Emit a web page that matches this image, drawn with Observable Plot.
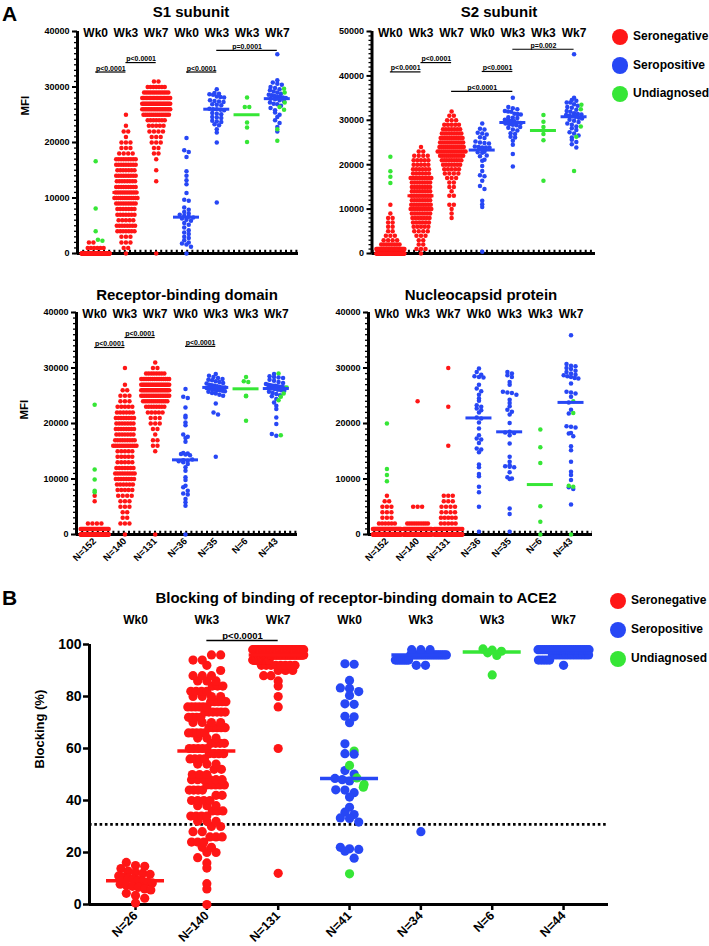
<!DOCTYPE html>
<html><head><meta charset="utf-8">
<script src="https://cdn.jsdelivr.net/npm/d3@7"></script>
<script src="https://cdn.jsdelivr.net/npm/@observablehq/plot@0.6"></script>
<style>
body{margin:0;background:#fff;}
#root{position:relative;width:709px;height:946px;overflow:hidden;background:#fff;font-family:"Liberation Sans",Arial,sans-serif;font-weight:bold;color:#000;}
.t{position:absolute;white-space:nowrap;line-height:1.15;}
</style></head><body><div id="root"></div>
<script>
// ---------- categories & labels ----------
const statuses = ["Seronegative", "Seropositive", "Undiagnosed"];
const statusColors = ["#ff1616", "#2747f5", "#36e636"];
const weekLabels = ["Wk0", "Wk3", "Wk7", "Wk0", "Wk3", "Wk3", "Wk7"];
const nLabelsA = ["N=152", "N=140", "N=131", "N=36", "N=35", "N=6", "N=43"];
const nLabelsB = ["N=26", "N=140", "N=131", "N=41", "N=34", "N=6", "N=44"];
const panelTitles = ["S1 subunit", "S2 subunit", "Receptor-binding domain", "Nucleocapsid protein",
  "Blocking of binding of receptor-binding domain to ACE2"];

// ---------- S1 subunit (MFI) ; *Neg* arrays = counts per 1000-MFI bin ----------
const s1NegWk0 = [139, 6, 2];
const s1UndWk0 = [16600, 8100, 4000, 2500, 2300];
const s1NegWk3 = [1,2,3,3,7,8,5,7,7,9,12,10,9,8,9,7,9,9,4,3,3,1,2,1,0,1];
const s1NegWk7 = [1,0,0,0,0,0,0,0,0,0,0,0,0,1,0,1,0,1,2,2,3,3,4,5,7,14,19,25,21,13,7,2];
const s1PosWk0 = [20800,18600,18300,17400,14800,14000,13200,12500,10900,9700,9500,8300,7900,7500,7200,7000,6800,6600,6500,6300,6100,5900,5500,5200,4700,4200,3800,3500,3000,2800,2400,2000,1800,1600,1200,0];
const s1PosWk3 = [29600,28900,28800,28700,28600,28300,28200,28100,27600,27500,27400,27300,26900,26800,26700,26100,26000,26000,25900,25800,25300,25200,25100,24600,24500,24400,23900,23800,23700,23300,23100,22400,21800,20000,9200];
const s1UndWk3 = [28100, 26400, 26400, 23600, 22700, 20100];
const s1PosWk7 = [35900,31200,30800,30600,30400,30000,29800,29600,29400,29200,29000,28800,28600,28500,28400,28300,28200,28100,28000,27900,27800,27600,27400,27200,27000,26900,26600,26200,25800,25400,25000,24600,24000,23500,22800,22000];
const s1UndWk7 = [29700, 29000, 27200, 26400, 25900, 22400, 20300];

// ---------- S2 subunit ----------
const s2NegWk0 = [83,40,8,4,3,2,2,2,2,1,0,1];
const s2UndWk0 = [21800, 18500, 17300, 15900];
const s2NegWk3 = [1,3,2,2,3,4,5,6,7,8,10,9,8,9,8,8,8,10,6,6,5,5,4,2,1];
const s2NegWk7 = [0,0,0,0,0,0,0,0,1,1,1,2,0,2,1,2,2,3,4,5,7,9,12,16,13,12,11,9,7,5,3,2,1];
const s2PosWk0 = [29300,28100,27900,27200,27000,26800,26200,26000,25200,25000,24900,24800,24100,24000,23900,23900,23800,23700,22900,22800,22700,22100,21900,21100,20900,19700,18600,17600,17400,16400,15200,14500,11900,11100,10500,400];
const s2PosWk3 = [35100,33000,32700,32500,32100,32000,31900,31500,31400,31300,30700,30600,30500,30100,30000,29900,29800,29500,29400,29300,29100,29000,28900,28500,28300,27900,27700,27100,26900,26300,26100,25400,24500,22400,19600];
const s2UndWk3 = [31200, 29700, 28500, 26900, 25500, 16400];
const s2PosWk7 = [44900,35100,34600,34400,34000,34000,33600,33300,33000,32800,32400,32100,31900,31600,31400,31300,31200,31000,30900,30800,30600,30400,30100,29900,29600,29300,29000,28600,28200,27800,27300,27000,26600,26100,25600,25100,24600,23900];
const s2UndWk7 = [33500, 32500, 28600, 26300, 18600];

// ---------- Receptor-binding domain ----------
const rbdNegWk0 = [111, 30, 4, 0, 0, 0, 1, 1];
const rbdUndWk0 = [23400, 11700, 9900, 7900, 7600];
const rbdNegWk3 = [1,0,3,2,2,3,3,4,5,6,8,9,7,5,5,5,12,9,7,8,7,8,6,5,3,3,2,1,0,0,1];
const rbdNegWk7 = [1,0,0,0,0,0,0,0,0,0,0,0,0,0,0,1,2,2,1,2,3,3,5,8,13,17,23,23,16,8,2,1];
const rbdPosWk0 = [26200,24800,24600,22900,21400,21100,20200,19700,18000,17600,17400,16700,14700,14600,14500,14400,14300,13200,13400,13300,13000,12700,12100,11500,10300,9800,8800,8500,7900,7400,7200,6400,5800,5200,0,13500];
const rbdPosWk3 = [28900,28600,28400,28200,28000,27900,27800,27600,27500,27300,27200,27000,26900,26800,26700,26600,26500,26500,26400,26300,26200,26100,26000,26000,25900,25800,25700,25500,25400,25200,25000,23600,22000,21600,14000];
const rbdUndWk3 = [28400, 27600, 27500, 25000, 24900, 20500];
const rbdPosWk7 = [28900,28500,28400,28300,28200,27900,27700,27500,27300,27100,27000,26900,26800,26800,26700,26600,26600,26500,26400,26300,26200,26100,26000,25900,25700,25500,25300,25100,24900,24400,23800,23200,22600,21100,19900,18100,17800];
const rbdUndWk7 = [29000, 26500, 25400, 24800, 24200, 17900];

// ---------- Nucleocapsid protein ----------
const nNegWk0 = [90, 40, 6, 3, 3, 3, 2, 1];
const nUndWk0 = [20000, 11800, 10700, 9600];
const nNegWk3 = [91,35,10,0,0,3,0,0,0,0, 0,0,0,0,0,0,0,0,0,0, 0,0,0,0,1];
const nNegWk7 = [80,24,5,5,4,4,3,3,0,0, 0,0,0,0,0,0,1,0,0,0, 0,0,0,1,0,0,0,0,0,0, 1];
const nPosWk0 = [29900,29300,28800,28500,28400,28300,27000,26300,25800,25200,24500,24100,23300,23000,22700,22400,22000,21100,20900,20200,19100,17900,17300,17100,16500,15500,15300,14800,12600,12100,10900,10500,8600,7600,5000,500];
const nPosWk3 = [29300,29000,28700,28400,27500,27000,25700,25600,25500,25200,24300,23700,23100,22500,22100,21600,20100,18400,17900,16400,14000,13100,12500,12300,12200,12100,11200,10300,10100,10000,4700,3700,500,18500,18300];
const nUndWk3 = [18900, 15700, 12900, 5100, 2300, 0];
const nPosWk7 = [35900,30700,30400,30300,30000,29800,29500,29300,29000,28800,28700,28500,28400,28200,28100,27200,25700,25600,25400,23800,22500,21800,19500,19400,19300,18300,18200,17700,15900,15200,13100,11300,10700,9800,8500,8200,5400,24800];
const nUndWk7 = [24000, 21900, 8800, 8600, 0];

// ---------- B: blocking (%) ; count arrays = counts per 2% bin ----------
const bNegWk0 = [16.2,15.0,14.7,13.8,12.8,12.3,12.0,11.6,11.0,10.6,10.2,9.8,9.3,9.0,8.6,8.3,7.8,7.4,7.0,6.6,6.0,5.6,4.3,3.5,2.4,0.6];
const bNegWk3 = [1,0,0,1,1,0,0,1,1,1, 2,2,3,3,2,2,3,4,3,3, 4,2,4,5,6,3,2,3,4,4, 5,4,3,5,5,4,4,6,6,5, 4,4,3,3,3,1,1,2,2];
const bNegWk7 = [0,0,0,0,0,0,1,0,0,0, 0,0,0,0,0,0,0,0,0,0, 0,0,0,0,0,0,0,0,0,0, 1,0,0,0,0,0,0,0,1,0, 1,0,1,1,2,3,8,25,50,37];
const bPosWk0 = [92.6,92.4,86.2,83.3,83.1,81.9,80.4,77.2,77.0,72.4,72.2,69.9,61.8,58.0,57.8,51.5,50.2,48.5,48.0,47.5,44.1,44.0,43.0,41.3,37.4,35.5,34.6,33.3,33.1,31.7,22.0,21.4,21.2,20.5,17.8];
const bUndWk0 = [59.0, 53.5, 48.7, 46.2, 45.1, 11.8];
const bPosWk3 = [0,0,0,0,0,0,0,0,0,0, 0,0,0,0,1,0,0,0,0,0, 0,0,0,0,0,0,0,0,0,0, 0,0,0,0,0,0,0,0,0,0, 0,0,0,0,0,0,2,8,20,3];
const bUndWk3 = [98.3, 97.8, 97.4, 96.8, 95.8, 88.3];
const bPosWk7 = [0,0,0,0,0,0,0,0,0,0, 0,0,0,0,0,0,0,0,0,0, 0,0,0,0,0,0,0,0,0,0, 0,0,0,0,0,0,0,0,0,0, 0,0,0,0,0,0,1,5,14,24];
const blockingCutoff = [30.8];

// ---------- significance annotations: [from group, to group, level, label] ----------
const s1Brackets = [[0,1,32700,"p<0.0001"],[1,2,34400,"p<0.0001"],[3,4,32700,"p<0.0001"],[4,6,36600,"p=0.0001"]];
const s2Brackets = [[0,1,40900,"p<0.0001"],[1,2,43000,"p<0.0001"],[3,4,41000,"p<0.0001"],[2,4,36500,"p<0.0001"],[4,6,46000,"p=0.002"]];
const rbdBrackets = [[0,1,33700,"p<0.0001"],[1,2,35500,"p<0.0001"],[3,4,33900,"p<0.0001"]];
const bBrackets = [[1,2,101.5,"p<0.0001"]];

// ---------- helpers ----------
const [NEG, POS, UND] = statuses;
const fromCounts = (arr, bin, status) => arr.flatMap((c, k) => Array.from({length: c}, () => ({v: k * bin, status})));
const fromValues = (arr, status) => arr.map(v => ({v, status}));
function mfiGroups(negWk0, undWk0, negWk3, negWk7, posWk0, posWk3, undWk3, posWk7, undWk7) {
  return [
    {points: [...fromCounts(negWk0, 1000, NEG), ...fromValues(undWk0, UND)], line: NEG},
    {points: fromCounts(negWk3, 1000, NEG), line: NEG},
    {points: fromCounts(negWk7, 1000, NEG), line: NEG},
    {points: fromValues(posWk0, POS), line: POS},
    {points: fromValues(posWk3, POS), line: POS},
    {points: fromValues(undWk3, UND), line: UND},
    {points: [...fromValues(posWk7, POS), ...fromValues(undWk7, UND)], line: POS}
  ];
}
// row-based scatter layout (Prism style): row width grows fast for few points, slowly for many
function beeswarm(groups, toPx, rowPx, diam, slope, cap, unitPx) {
  const out = [];
  groups.forEach((g, i) => {
    const rows = d3.group(g.points, p => Math.round(toPx(p.v) / rowPx));
    for (const row of rows.values()) {
      const n = row.length;
      const w = n <= 1 ? 0 : Math.min(cap, n <= 4 ? diam * (n - 1) : diam * 3 + (n - 4) * slope);
      const s = n > 1 ? w / (n - 1) : 0;
      row.forEach((p, j) => out.push({x: i + (j - (n - 1) / 2) * s / unitPx, v: p.v, status: p.status}));
    }
  });
  return out;
}
const medians = groups => groups.map((g, i) => ({i, m: d3.median(g.points, p => p.v), status: g.line}));

const root = document.getElementById("root");
function place(svg, left, top) {
  svg.style.position = "absolute"; svg.style.left = left + "px"; svg.style.top = top + "px";
  root.appendChild(svg);
}
function label(text, x, y, size, anchor = "center") {
  const d = document.createElement("div");
  d.className = "t"; d.textContent = text;
  d.style.left = x + "px"; d.style.top = y + "px"; d.style.fontSize = size + "px";
  d.style.transform = anchor === "center" ? "translate(-50%,-50%)" : "translate(0,-50%)";
  root.appendChild(d);
}
const baseStyle = {background: "transparent", overflow: "visible", fontFamily: "'Liberation Sans', Arial, sans-serif", fontWeight: "bold", color: "#000"};
const colorScale = {domain: statuses, range: statusColors};

function panelA({groups, ymax, box, frame, brackets, mfiDy, nLabels}) {
  const [L, T, W, H] = box;
  const [fl, ft, fr, fb] = frame;
  const xdom = [-0.6, 6.7];
  const unitPx = (fr - fl) / (xdom[1] - xdom[0]);
  const vPx = (fb - ft) / ymax;
  const diam = 4.5;
  const pts = beeswarm(groups, v => v * vPx, diam * 0.92, diam, 1.2, 28, unitPx);
  const meds = medians(groups);
  const hw = 13 / unitPx;
  const marks = [
    Plot.axisY({ticks: d3.range(0, ymax + 1, 1000), tickSize: 3, tickFormat: () => "", strokeWidth: 1.3, label: null}),
    Plot.axisY({ticks: d3.range(0, ymax + 1, 10000), tickSize: 5, tickPadding: 3, tickFormat: d => String(d), fontSize: 9, strokeWidth: 2, label: null}),
    Plot.ruleY([0], {dy: -2.5, strokeWidth: 2.5, strokeDasharray: "2,3.2"}),
    Plot.ruleX([xdom[0]], {strokeWidth: 3}),
    Plot.ruleY([0], {strokeWidth: 3}),
    Plot.dot(pts, {x: "x", y: "v", r: diam / 2, fill: "status"}),
    Plot.ruleY(meds, {y: "m", x1: d => d.i - hw, x2: d => d.i + hw, stroke: "status", strokeWidth: 3}),
    Plot.ruleY(brackets, {y: d => d[2], x1: d => d[0], x2: d => d[1], strokeWidth: 1.2}),
    Plot.text(brackets, {x: d => (d[0] + d[1]) / 2, y: d => d[2], text: d => d[3], dy: -1.5, lineAnchor: "bottom", fontSize: 7}),
    Plot.text(weekLabels, {x: (d, i) => i, y: ymax, dy: 2, fontSize: 12})
  ];
  if (mfiDy !== undefined) marks.push(Plot.text(["MFI"], {frameAnchor: "left", dx: -52, dy: mfiDy, rotate: -90, fontSize: 11.5}));
  if (nLabels) marks.push(Plot.axisX({ticks: d3.range(7), tickFormat: i => nLabels[i], tickRotate: -45, tickSize: 0, tickPadding: 5, fontSize: 9.5, label: null}));
  const svg = Plot.plot({
    width: W, height: H,
    marginLeft: fl - L, marginRight: L + W - fr, marginTop: ft - T, marginBottom: T + H - fb,
    x: nLabels ? {type: "linear", domain: xdom, label: null} : {type: "linear", domain: xdom, axis: null},
    y: {domain: [0, ymax], label: null},
    color: colorScale,
    style: baseStyle,
    marks
  });
  place(svg, L, T);
}

panelA({groups: mfiGroups(s1NegWk0, s1UndWk0, s1NegWk3, s1NegWk7, s1PosWk0, s1PosWk3, s1UndWk3, s1PosWk7, s1UndWk7),
  ymax: 40000, box: [0, 0, 340, 265], frame: [77, 31, 298, 253], brackets: s1Brackets, mfiDy: -27});
panelA({groups: mfiGroups(s2NegWk0, s2UndWk0, s2NegWk3, s2NegWk7, s2PosWk0, s2PosWk3, s2UndWk3, s2PosWk7, s2UndWk7),
  ymax: 50000, box: [295, 0, 340, 265], frame: [371.5, 31, 595, 253], brackets: s2Brackets});
panelA({groups: mfiGroups(rbdNegWk0, rbdUndWk0, rbdNegWk3, rbdNegWk7, rbdPosWk0, rbdPosWk3, rbdUndWk3, rbdPosWk7, rbdUndWk7),
  ymax: 40000, box: [0, 270, 340, 310], frame: [76, 312, 297, 534], brackets: rbdBrackets, mfiDy: -4, nLabels: nLabelsA});
panelA({groups: mfiGroups(nNegWk0, nUndWk0, nNegWk3, nNegWk7, nPosWk0, nPosWk3, nUndWk3, nPosWk7, nUndWk7),
  ymax: 40000, box: [295, 270, 340, 310], frame: [368, 312, 592, 534], brackets: [], nLabels: nLabelsA});

// ---------- panel B ----------
(function () {
  const groups = [
    {points: fromValues(bNegWk0, NEG), line: NEG},
    {points: fromCounts(bNegWk3, 2, NEG), line: NEG},
    {points: fromCounts(bNegWk7, 2, NEG), line: NEG},
    {points: [...fromValues(bPosWk0, POS), ...fromValues(bUndWk0, UND)], line: POS},
    {points: fromCounts(bPosWk3, 2, POS), line: POS},
    {points: fromValues(bUndWk3, UND), line: UND},
    {points: fromCounts(bPosWk7, 2, POS), line: POS}
  ];
  const [L, T, W, H] = [0, 575, 709, 371];
  const [fl, ft, fr, fb] = [89, 644, 608, 904];
  const xdom = [-0.645, 6.63];
  const unitPx = (fr - fl) / (xdom[1] - xdom[0]);
  const vPx = (fb - ft) / 100;
  const diam = 9.2;
  const pts = beeswarm(groups, v => v * vPx, diam * 0.9, diam, 1.5, 51, unitPx);
  const meds = medians(groups);
  const hw = 29 / unitPx;
  const svg = Plot.plot({
    width: W, height: H,
    marginLeft: fl - L, marginRight: L + W - fr, marginTop: ft - T, marginBottom: T + H - fb,
    x: {type: "linear", domain: xdom, label: null},
    y: {domain: [0, 100], label: null},
    color: colorScale,
    style: baseStyle,
    marks: [
      Plot.ruleY(blockingCutoff, {strokeWidth: 2.8, strokeDasharray: "2.6,2.7"}),
      Plot.axisY({ticks: d3.range(0, 101, 20), tickSize: 6, tickPadding: 2, tickFormat: d => String(d), fontSize: 14, strokeWidth: 2.5, label: null}),
      Plot.axisX({ticks: d3.range(7), tickFormat: i => nLabelsB[i], tickRotate: -45, tickSize: 6, tickPadding: 3, fontSize: 12.5, strokeWidth: 2.5, label: null}),
      Plot.ruleX([xdom[0]], {strokeWidth: 3}),
      Plot.ruleY([0], {strokeWidth: 3}),
      Plot.dot(pts, {x: "x", y: "v", r: diam / 2, fill: "status"}),
      Plot.ruleY(meds, {y: "m", x1: d => d.i - hw, x2: d => d.i + hw, stroke: "status", strokeWidth: 3.5}),
      Plot.ruleY(bBrackets, {y: d => d[2], x1: d => d[0], x2: d => d[1], strokeWidth: 1.5}),
      Plot.text(bBrackets, {x: d => (d[0] + d[1]) / 2, y: d => d[2], text: d => d[3], dy: -2, lineAnchor: "bottom", fontSize: 9.5}),
      Plot.text(weekLabels, {x: (d, i) => i, y: 100, dy: -24, fontSize: 12}),
      Plot.text(["Blocking (%)"], {frameAnchor: "left", dx: -50, dy: -6, rotate: -90, fontSize: 13})
    ]
  });
  place(svg, L, T);
})();

// ---------- titles, panel letters, legends ----------
label(panelTitles[0], 191, 12, 15);
label(panelTitles[1], 499, 12, 15);
label(panelTitles[2], 187, 295, 15);
label(panelTitles[3], 481, 295, 15);
label(panelTitles[4], 356, 598, 15);
label("A", 2, 14, 21, "left");
label("B", 2, 598, 21, "left");
function legend(cx, cy0, gap) {
  statuses.forEach((s, k) => {
    const c = document.createElement("div");
    c.style.cssText = `position:absolute;left:${cx - 8.3}px;top:${cy0 + k * gap - 8.3}px;width:16.6px;height:16.6px;border-radius:50%;background:${statusColors[k]}`;
    root.appendChild(c);
    label(s, cx + 13, cy0 + k * gap, 12, "left");
  });
}
legend(620, 37, 28.5);
legend(618, 601, 29);
</script></body></html>
